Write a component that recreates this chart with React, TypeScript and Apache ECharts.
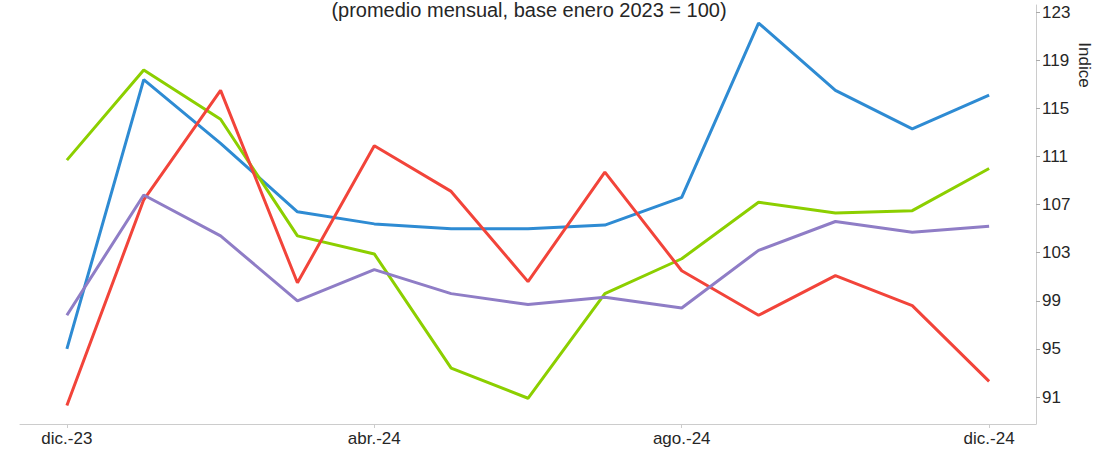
import React, { useEffect, useRef } from "react";
import * as echarts from "echarts";

const categories = [
  "dic.-23", "ene.-24", "feb.-24", "mar.-24", "abr.-24", "may.-24", "jun.-24",
  "jul.-24", "ago.-24", "sep.-24", "oct.-24", "nov.-24", "dic.-24",
];
const blueValues = [95.0, 117.4, 112.1, 106.4, 105.4, 105.0, 105.0, 105.3, 107.6, 122.1, 116.5, 113.3, 116.1];
const greenValues = [110.7, 118.2, 114.1, 104.4, 102.9, 93.4, 90.9, 99.6, 102.5, 107.2, 106.3, 106.5, 110.0];
const redValues = [90.3, 107.4, 116.5, 100.5, 111.9, 108.1, 100.6, 109.7, 101.5, 97.8, 101.1, 98.6, 92.3];
const purpleValues = [97.8, 107.8, 104.4, 99.0, 101.6, 99.6, 98.7, 99.3, 98.4, 103.2, 105.6, 104.7, 105.2];
const yTicks = [91, 95, 99, 103, 107, 111, 115, 119, 123];
const xTickIndices = [0, 4, 8, 12];
const titleText = "(promedio mensual, base enero 2023 = 100)";
const yAxisName = "Indice";

const FONT = "'Liberation Sans', Arial, sans-serif";

function toPairs(vals: number[]) {
  return vals.map((v, i) => [i, v]);
}

export default function App() {
  const ref = useRef<HTMLDivElement>(null);
  useEffect(() => {
    document.body.style.margin = "0";
    const chart = echarts.init(ref.current!, null, { renderer: "svg" });
    const mkLine = (name: string, vals: number[], color: string) => ({
      name,
      type: "line",
      data: toPairs(vals),
      symbol: "none",
      lineStyle: { color, width: 3 },
      itemStyle: { color },
    });
    chart.setOption({
      animation: false,
      backgroundColor: "#ffffff",
      textStyle: { fontFamily: FONT },
      grid: { left: 20, right: 79, top: 5, bottom: 25, containLabel: false },
      xAxis: {
        type: "value",
        min: -0.61,
        max: 12.61,
        splitLine: { show: false },
        axisLine: { show: true, onZero: false, lineStyle: { color: "#cccccc", width: 1 } },
        axisTick: {
          show: true,
          customValues: xTickIndices,
          length: 4,
          lineStyle: { color: "#cccccc" },
        },
        axisLabel: {
          customValues: xTickIndices,
          formatter: (v: number) => categories[Math.round(v)] ?? "",
          color: "#262626",
          fontSize: 17,
          fontFamily: FONT,
          margin: 6,
        },
      },
      yAxis: {
        type: "value",
        position: "right",
        min: 88.76,
        max: 123.6,
        splitLine: { show: false },
        axisLine: { show: true, onZero: false, lineStyle: { color: "#cccccc", width: 1 } },
        axisTick: {
          show: true,
          customValues: yTicks,
          length: 4,
          lineStyle: { color: "#aaaaaa" },
        },
        axisLabel: {
          customValues: yTicks,
          color: "#262626",
          fontSize: 17,
          fontFamily: FONT,
          margin: 6,
        },
      },
      graphic: [
        {
          type: "text",
          x: 529,
          y: 9.5,
          style: {
            text: titleText,
            fontSize: 20,
            fontFamily: FONT,
            fill: "#262626",
            align: "center",
            verticalAlign: "middle",
          },
        },
        {
          type: "text",
          x: 1084,
          y: 65,
          rotation: -Math.PI / 2,
          style: {
            text: yAxisName,
            fontSize: 17,
            fontFamily: FONT,
            fill: "#262626",
            align: "center",
            verticalAlign: "middle",
          },
        },
      ],
      series: [
        mkLine("Azul", blueValues, "#2e8bd3"),
        mkLine("Verde", greenValues, "#8ccf00"),
        mkLine("Rojo", redValues, "#f2443a"),
        mkLine("Violeta", purpleValues, "#8f7dc6"),
      ],
    });
    return () => chart.dispose();
  }, []);
  return <div ref={ref} style={{ width: 1115, height: 449 }} />;
}
